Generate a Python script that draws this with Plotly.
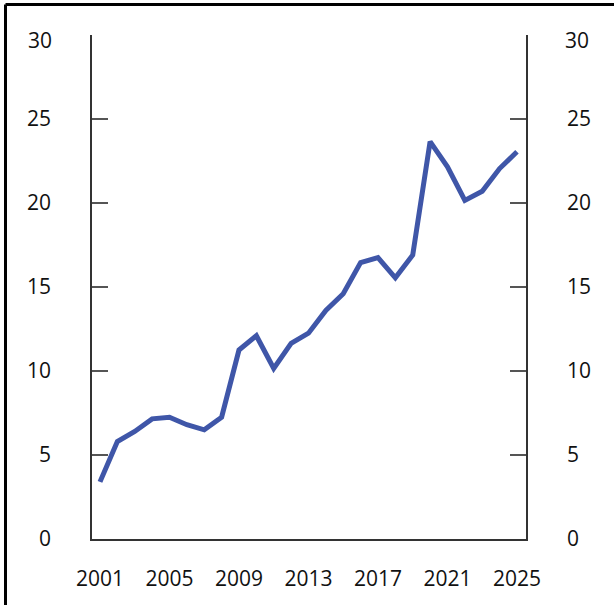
import plotly.graph_objects as go

# år og verdier lest av figuren
years = list(range(2001, 2026))
values = [3.4, 5.8, 6.4, 7.15, 7.25, 6.8, 6.5, 7.25, 11.25, 12.1, 10.15, 11.65, 12.25,
          13.6, 14.6, 16.45, 16.75, 15.55, 16.9, 23.65, 22.15, 20.15, 20.7, 22.05, 23.05]
x_ticks = [2001, 2005, 2009, 2013, 2017, 2021, 2025]
y_ticks = [0, 5, 10, 15, 20, 25, 30]
y_labels = ["0", "5", "10", "15", "20", "25", "30"]

LINE_COLOR = "#3f56a8"
FONT = dict(family="Open Sans, Noto Sans, sans-serif", size=21, color="#111")

fig = go.Figure()
fig.add_trace(go.Scatter(
    x=years, y=values, mode="lines",
    line=dict(color=LINE_COLOR, width=5),
    showlegend=False, hoverinfo="skip",
))
# samme serie på de andre aksene, usynlig, bare for å tegne aksene
for ax in ["y2", "y3"]:
    fig.add_trace(go.Scatter(
        x=years, y=values, mode="lines", yaxis=ax,
        line=dict(color="rgba(0,0,0,0)", width=0),
        showlegend=False, hoverinfo="skip",
    ))

# øverste tall står litt lavere i originalen, derfor egne annotasjoner
shown = [t if v != y_ticks[-1] else "" for v, t in zip(y_ticks, y_labels)]

base = dict(range=[0, 30], tickvals=y_ticks, showgrid=False, zeroline=False,
            showline=True, linecolor="#333", linewidth=1.5)

fig.update_layout(
    width=614, height=605,
    margin=dict(l=92, r=88, t=35, b=66),
    paper_bgcolor="white", plot_bgcolor="white",
    font=FONT,
    xaxis=dict(
        range=[2000.54, 2025.52], tickvals=x_ticks, ticks="", showline=True,
        linecolor="#333", linewidth=1.5, showgrid=False, zeroline=False,
        tickfont=FONT, ticklabelstandoff=20,
    ),
    # venstre: bare tall
    yaxis=dict(side="left", ticks="", tickfont=FONT, ticktext=shown,
               ticklabelstandoff=35, **base),
    # høyre: tall og streker innover
    yaxis2=dict(side="right", overlaying="y", matches="y", ticks="inside", ticklen=16,
                tickcolor="#555", tickwidth=1.5, tickfont=FONT, ticktext=shown,
                ticklabelstandoff=35, **base),
    # venstre streker innover
    yaxis3=dict(side="left", overlaying="y", matches="y", ticks="inside", ticklen=16,
                tickcolor="#555", tickwidth=1.5, showticklabels=False, **base),
    annotations=[
        dict(xref="paper", yref="y", x=0, y=y_ticks[-1], text=y_labels[-1],
             showarrow=False, xanchor="right", xshift=-38, yshift=-5, font=FONT),
        dict(xref="paper", yref="y", x=1, y=y_ticks[-1], text=y_labels[-1],
             showarrow=False, xanchor="left", xshift=37, yshift=-5, font=FONT),
    ],
    shapes=[
        # ramme øverst og til venstre
        dict(type="line", xref="paper", yref="paper", x0=-0.1993, x1=1.3,
             y0=1.0605, y1=1.0605, line=dict(color="black", width=3)),
        dict(type="line", xref="paper", yref="paper", x0=-0.1993, x1=-0.1993,
             y0=-0.2, y1=1.0605, line=dict(color="black", width=3)),
    ],
)

# siden har 8 px marg i body som standard
fig.write_html("out.html", config={"displayModeBar": False},
               post_script="document.body.style.margin='0';")
